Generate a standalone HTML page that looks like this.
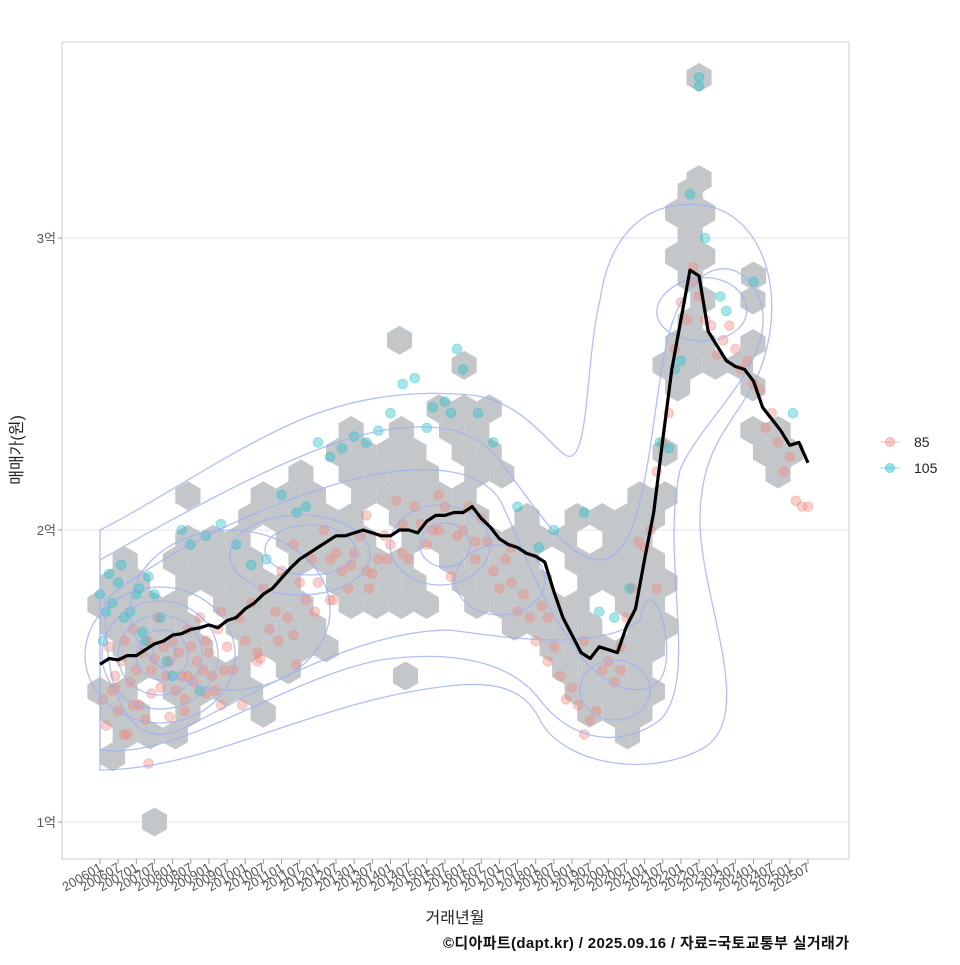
<!DOCTYPE html>
<html><head><meta charset="utf-8">
<style>
body{margin:0;background:#fff;}
svg text{font-family:"Liberation Sans","Noto Sans CJK KR",sans-serif;}
</style></head>
<body>
<svg id="chart" width="960" height="960" viewBox="0 0 960 960">
<rect x="0" y="0" width="960" height="960" fill="#fff"/>
<g id="grid"></g>
<g id="hexes"></g>
<g id="points"></g>
<g id="contours" fill="none" stroke="#9fb0f0" stroke-width="1.3" opacity="0.8">
<path d="M100,530 C160,500 230,450 300,420 C360,395 420,390 470,395 C520,400 545,440 565,455 C590,470 585,360 600,300 C610,230 650,200 700,205 C760,210 790,290 760,370 C740,420 700,440 700,520 C700,600 760,720 700,750 C640,780 560,760 540,720 C520,680 480,680 420,690 C300,710 200,770 100,770 Z"/>
<path d="M100,560 C170,520 260,470 330,445 C400,420 460,420 490,450 C520,480 560,560 600,560 C650,560 650,400 670,330 C690,260 740,250 760,300 C780,360 700,420 680,470 C660,560 700,680 660,720 C620,750 570,740 540,700 C510,660 450,650 380,660 C280,680 180,760 100,750 Z"/>
<path d="M105,600 C180,540 280,500 350,480 C430,460 480,470 500,500 C520,540 540,600 570,640 C600,690 640,700 660,680 C680,650 650,560 640,620 C600,650 520,640 450,630 C360,630 260,690 180,730 C130,750 105,700 105,600 Z"/>
<path d="M660,300 C680,270 730,270 745,300 C755,330 720,345 690,340 C665,335 650,320 660,300 Z"/>
<ellipse cx="160" cy="655" rx="75" ry="68"/><ellipse cx="160" cy="655" rx="58" ry="54"/><ellipse cx="160" cy="655" rx="42" ry="40"/><ellipse cx="162" cy="655" rx="26" ry="25"/><ellipse cx="164" cy="655" rx="12" ry="12"/>
<ellipse cx="300" cy="555" rx="70" ry="40"/><ellipse cx="310" cy="550" rx="45" ry="25"/>
<ellipse cx="440" cy="545" rx="50" ry="40"/><ellipse cx="445" cy="545" rx="25" ry="22"/>
<ellipse cx="230" cy="610" rx="100" ry="80"/>
<ellipse cx="615" cy="690" rx="35" ry="30"/>
<ellipse cx="500" cy="580" rx="45" ry="35"/>
</g>
<g id="line"></g>
<g id="axes"></g>
</svg>
<script>
const lineMonths=[0,3,6,9,12,15,18,21,24,27,30,33,36,39,42,45,48,51,54,57,60,63,66,69,72,75,78,81,84,87,90,93,96,99,102,105,108,111,114,117,120,123,126,129,132,135,138,141,144,147,150,153,156,159,162,165,168,171,174,177,180,183,186,189,192,195,198,201,204,207,210,213,216,219,222,225,228,231,234];
const lineValues=[1.54,1.56,1.555,1.57,1.57,1.59,1.61,1.62,1.64,1.645,1.66,1.665,1.675,1.665,1.69,1.70,1.73,1.75,1.78,1.80,1.835,1.87,1.90,1.92,1.94,1.96,1.98,1.98,1.99,2.0,1.99,1.98,1.98,2.0,2.0,1.99,2.03,2.05,2.05,2.06,2.06,2.08,2.04,2.01,1.97,1.95,1.94,1.92,1.91,1.89,1.79,1.70,1.64,1.58,1.56,1.60,1.59,1.58,1.67,1.73,1.90,2.06,2.31,2.55,2.72,2.89,2.87,2.68,2.63,2.58,2.56,2.55,2.51,2.42,2.38,2.34,2.29,2.30,2.23];
const hexMonth=[0,6,12,18,24,30,36,42,48,54,60,66,72,78,84,90,96,102,108,114,120,126,132,138,144,150,156,162,168,174,180,186,192,198,204,210,216,222,228,234];
const hexLow=[1.35,1.21,1.28,1.28,1.28,1.35,1.42,1.38,1.42,1.35,1.49,1.49,1.59,1.69,1.66,1.76,1.73,1.72,1.76,1.73,1.73,1.76,1.66,1.69,1.66,1.49,1.35,1.32,1.28,1.32,1.35,1.59,2.28,2.52,2.55,2.52,2.36,2.17,2.28,2.08];
const hexHigh=[1.79,1.90,1.86,1.86,1.90,2.17,1.97,2.03,2.03,2.10,2.13,2.30,2.30,2.24,2.37,2.30,2.30,2.37,2.37,2.44,2.61,2.44,2.30,2.07,2.03,1.90,2.07,1.90,2.07,2.07,2.10,2.61,3.13,3.20,2.68,2.65,2.90,2.38,2.41,2.08];
const extraHexMonth=[18,101,99,198,198,216];
const extraHexValue=[1.0,1.50,2.65,3.55,3.20,2.87];
const ptMonth=[1,2,3,4,5,6,7,8,9,10,11,12,13,14,15,16,17,18,19,20,21,22,23,24,25,26,27,28,29,30,31,32,33,34,35,36,37,38,39,40,42,44,46,48,50,52,54,56,58,60,62,64,66,68,70,72,74,76,78,80,82,84,86,88,90,92,94,96,98,100,102,104,106,108,110,112,114,116,118,120,122,124,126,128,130,132,134,136,138,140,142,144,146,148,150,152,154,156,158,160,162,164,166,168,170,172,174,176,178,180,182,184,186,188,190,192,194,196,198,200,202,204,206,208,210,212,214,216,218,220,222,224,226,228,230,232,234,8,16,28,40,52,64,76,88,100,112,124,136,148,160,172,184,196,5,11,17,23,29,35,41,47,53,59,65,71,77,83,89,95];
const ptValue=[1.42,1.33,1.60,1.45,1.50,1.38,1.55,1.62,1.30,1.48,1.66,1.52,1.40,1.58,1.35,1.62,1.44,1.56,1.70,1.46,1.60,1.50,1.55,1.62,1.45,1.58,1.50,1.42,1.66,1.60,1.48,1.55,1.70,1.52,1.62,1.58,1.50,1.45,1.66,1.72,1.60,1.52,1.70,1.62,1.75,1.55,1.80,1.66,1.72,1.86,1.70,1.95,1.82,1.76,1.90,1.82,2.00,1.76,1.92,1.86,1.80,1.92,1.98,2.05,1.85,1.90,1.98,1.95,2.10,2.02,1.90,2.08,2.02,1.95,2.00,2.12,2.08,1.84,1.98,2.00,2.08,1.90,2.04,1.96,1.86,1.80,1.90,1.82,1.72,1.78,1.70,1.62,1.74,1.55,1.60,1.50,1.42,1.46,1.40,1.30,1.35,1.38,1.52,1.55,1.48,1.60,1.70,1.80,1.96,1.94,2.00,2.20,2.30,2.40,2.62,2.78,2.72,2.85,2.80,2.72,2.70,2.60,2.65,2.70,2.62,2.55,2.58,2.50,2.48,2.35,2.40,2.30,2.20,2.25,2.10,2.08,2.08,1.30,1.20,1.38,1.40,1.58,1.64,1.90,1.86,1.92,2.00,1.96,1.94,1.70,1.62,1.52,1.80,2.90,1.46,1.40,1.52,1.36,1.50,1.44,1.52,1.40,1.56,1.62,1.54,1.72,1.76,1.88,1.80,1.90];
const ptCyanMonth=[0,1,2,3,4,6,7,8,10,12,13,14,15,16,18,20,22,24,27,30,33,35,40,45,50,55,60,65,68,72,76,80,84,88,92,96,100,104,108,110,114,116,118,120,125,130,138,145,150,160,165,170,175,185,188,190,192,195,198,198,200,205,207,216,229];
const ptCyanValue=[1.78,1.62,1.72,1.85,1.75,1.82,1.88,1.70,1.72,1.78,1.80,1.65,1.62,1.84,1.78,1.70,1.55,1.50,2.00,1.95,1.45,1.98,2.02,1.95,1.88,1.90,2.12,2.06,2.08,2.30,2.25,2.28,2.32,2.30,2.34,2.40,2.50,2.52,2.35,2.42,2.44,2.40,2.62,2.55,2.40,2.30,2.08,1.94,2.00,2.06,1.72,1.70,1.80,2.30,2.28,2.55,2.58,3.15,3.55,3.52,3.00,2.80,2.75,2.85,2.40];
const yTicks=[1,2,3];
const xTickLabels=[];for(let y=2006;y<=2025;y++){xTickLabels.push(y+"01");xTickLabels.push(y+"07");}

const X=m=>100+m*(708/234);
const Y=v=>822-(v-1)*292;
const NS="http://www.w3.org/2000/svg";
function mk(t,a,p){const e=document.createElementNS(NS,t);for(const k in a)e.setAttribute(k,a[k]);p.appendChild(e);return e;}
const grid=document.getElementById('grid');
mk('rect',{x:62,y:42,width:787,height:817,fill:'#fff',stroke:'#cccccc','stroke-width':1},grid);
yTicks.forEach(v=>{const l=mk('line',{x1:62,x2:849,y1:Y(v),y2:Y(v),stroke:'#e3e3e3'},grid);

});
const HR=14.5, HW=HR*Math.sqrt(3);
function hex(cx,cy,par){let d="";for(let i=0;i<6;i++){const a=Math.PI/3*i+Math.PI/6;d+=(i?"L":"M")+(cx+HR*Math.cos(a)).toFixed(1)+","+(cy+HR*Math.sin(a)).toFixed(1);}
const h=mk('path',{d:d+"Z",fill:'#c3c7ca'},par);

}
const hg=document.getElementById('hexes');
function rangeAt(m){let i=0;while(i<hexMonth.length-1&&hexMonth[i+1]<=m)i++;if(i<hexMonth.length-1&&m-hexMonth[i]>3)i++;return [hexLow[i],hexHigh[i]];}
for(let k=0;k<40;k++){const cy=822-k*HR*1.5;const v=1+(822-cy)/292;
 for(let cx=100+(k%2?HW/2:0);cx<=812;cx+=HW){const m=(cx-100)/(708/234);const r=rangeAt(m);
  if(v>=r[0]-0.03&&v<=r[1]+0.03&&((k*7+Math.round(cx))%6!==0))hex(cx,cy,hg);}}
extraHexMonth.forEach((m,i)=>hex(X(m),Y(extraHexValue[i]),hg));
const pg=document.getElementById('points');
ptMonth.forEach((m,i)=>{const c=mk('circle',{cx:X(m),cy:Y(ptValue[i]),r:4.8,fill:'#f08a80','fill-opacity':0.4,stroke:'#f08a80','stroke-opacity':0.4},pg);

});
ptCyanMonth.forEach((m,i)=>{const c=mk('circle',{cx:X(m),cy:Y(ptCyanValue[i]),r:4.8,fill:'#20c0c8','fill-opacity':0.4,stroke:'#20c0c8','stroke-opacity':0.4},pg);

});
const lp=mk('path',{d:lineMonths.map((m,i)=>(i?"L":"M")+X(m).toFixed(1)+","+Y(lineValues[i]).toFixed(1)).join(""),fill:'none',stroke:'#000','stroke-width':3.2,'stroke-linejoin':'round'},document.getElementById('line'));


const ax=document.getElementById('axes');
yTicks.forEach(v=>{const t=mk('text',{x:56,y:Y(v)+5,'text-anchor':'end','font-size':13,fill:'#555'},ax);t.textContent=v+"억";


mk('line',{x1:58,x2:62,y1:Y(v),y2:Y(v),stroke:'#999'},ax);});
xTickLabels.forEach((s,i)=>{const x=100+i*(708/39);mk('line',{x1:x,x2:x,y1:859,y2:864,stroke:'#999'},ax);
const t=mk('text',{x:x+3,y:870,'text-anchor':'end','font-size':13,fill:'#555',transform:`rotate(-30 ${x+3} 870)`},ax);t.textContent=s;

});
let t=mk('text',{x:455,y:923,'text-anchor':'middle','font-size':16,fill:'#222'},ax);t.textContent="거래년월";


t=mk('text',{x:22,y:450,'text-anchor':'middle','font-size':16,fill:'#222',transform:'rotate(-90 22 450)'},ax);t.textContent="매매가(원)";


t=mk('text',{x:849,y:948,'text-anchor':'end','font-size':15,'font-weight':'bold',fill:'#111',textLength:406},ax);t.textContent="©디아파트(dapt.kr) / 2025.09.16 / 자료=국토교통부 실거래가";


[["85","#f08a80",442],["105","#20c0c8",468]].forEach(([lab,col,y])=>{const g=mk('g',{},ax);


mk('line',{x1:880,x2:900,y1:y,y2:y,stroke:col,'stroke-opacity':0.5},g);
mk('circle',{cx:890,cy:y,r:4.5,fill:col,'fill-opacity':0.45,stroke:col,'stroke-opacity':0.5},g);
const tt=mk('text',{x:914,y:y+5,'font-size':14,fill:'#222'},g);tt.textContent=lab;});
</script>
</body></html>
